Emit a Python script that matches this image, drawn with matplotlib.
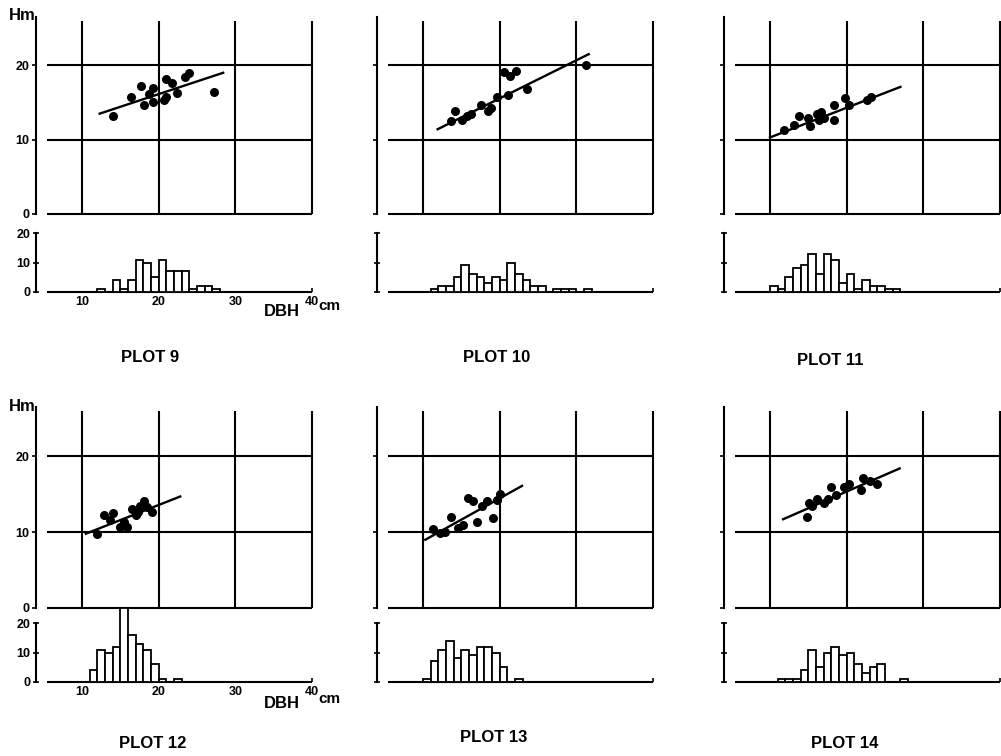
import matplotlib
matplotlib.use("Agg")
import matplotlib.pyplot as plt

plt.rcParams['font.family'] = ['Liberation Sans', 'DejaVu Sans']
plt.rcParams['font.weight'] = 'bold'

# ---- values (DBH in cm, height in m) ----
plot9_dbh = [14.1, 16.4, 17.7, 18.1, 18.7, 19.2, 19.3, 20.7, 21.0, 20.9, 21.7, 22.4, 23.4, 24.0, 27.2]
plot9_h = [13.2, 15.7, 17.2, 14.6, 16.1, 17.0, 15.1, 15.4, 15.7, 18.1, 17.6, 16.3, 18.4, 18.9, 16.4]
plot9_fit_dbh = [12.3, 28.4]
plot9_fit_h = [13.5, 19.0]
plot9_bin_start = 12
plot9_counts = [1, 0, 4, 1, 4, 11, 10, 5, 11, 7, 7, 7, 1, 2, 2, 1]

plot10_dbh = [13.7, 14.2, 15.1, 15.7, 16.3, 17.6, 18.5, 18.8, 19.6, 20.6, 21.4, 22.1, 21.1, 23.5, 31.2]
plot10_h = [12.5, 13.9, 12.6, 13.2, 13.5, 14.7, 13.8, 14.3, 15.7, 19.1, 18.5, 19.3, 16.0, 16.8, 20.1]
plot10_fit_dbh = [11.9, 31.6]
plot10_fit_h = [11.4, 21.5]
plot10_bin_start = 11
plot10_counts = [1, 2, 2, 5, 9, 6, 5, 3, 5, 4, 10, 6, 4, 2, 2, 0, 1, 1, 1, 0, 1]

plot11_dbh = [11.8, 13.1, 13.8, 15.0, 15.2, 16.1, 16.6, 16.4, 17.0, 18.3, 18.4, 19.8, 20.3, 22.6, 23.1]
plot11_h = [11.3, 12.0, 13.2, 12.9, 11.9, 13.4, 13.7, 12.6, 12.9, 12.6, 14.6, 15.6, 14.7, 15.4, 15.8]
plot11_fit_dbh = [10.0, 27.0]
plot11_fit_h = [10.3, 17.1]
plot11_bin_start = 10
plot11_counts = [2, 1, 5, 8, 9, 13, 6, 13, 11, 3, 6, 1, 4, 2, 2, 1, 1]

plot12_dbh = [11.9, 12.8, 13.6, 14.1, 15.0, 15.5, 15.9, 16.5, 17.0, 17.3, 18.1, 18.5, 19.1, 17.5]
plot12_h = [9.7, 12.2, 11.6, 12.5, 10.7, 11.3, 10.7, 13.1, 12.2, 12.6, 14.1, 13.3, 12.6, 13.4]
plot12_fit_dbh = [10.5, 22.8]
plot12_fit_h = [9.8, 14.7]
plot12_bin_start = 11
plot12_counts = [4, 11, 10, 12, 25, 16, 13, 11, 6, 1, 0, 1]

plot13_dbh = [11.3, 12.2, 12.8, 13.6, 14.6, 15.2, 15.9, 16.5, 17.0, 17.7, 18.3, 19.1, 19.6, 20.0]
plot13_h = [10.4, 9.9, 10.0, 12.0, 10.6, 11.0, 14.5, 14.1, 11.4, 13.4, 14.1, 11.8, 14.2, 15.0]
plot13_fit_dbh = [10.3, 22.9]
plot13_fit_h = [9.0, 16.1]
plot13_bin_start = 10
plot13_counts = [1, 7, 11, 14, 8, 11, 9, 12, 12, 10, 5, 0, 1]

plot14_dbh = [14.8, 15.1, 15.5, 16.1, 17.1, 17.5, 18.0, 18.6, 19.7, 20.3, 21.9, 22.1, 23.0, 24.0]
plot14_h = [12.0, 13.9, 13.5, 14.4, 13.8, 14.4, 16.0, 14.9, 15.9, 16.3, 15.6, 17.2, 16.7, 16.3]
plot14_fit_dbh = [11.7, 26.9]
plot14_fit_h = [11.7, 18.4]
plot14_bin_start = 11
plot14_counts = [1, 1, 1, 4, 11, 5, 10, 12, 9, 10, 6, 3, 5, 6, 0, 0, 1]

titles = ["PLOT 9", "PLOT 10", "PLOT 11", "PLOT 12", "PLOT 13", "PLOT 14"]
grid_dbh = [10, 20, 30, 40]
grid_h = [0, 10, 20]
hist_ticks = [0, 10, 20]

panels = [
    (plot9_dbh, plot9_h, plot9_fit_dbh, plot9_fit_h, plot9_bin_start, plot9_counts),
    (plot10_dbh, plot10_h, plot10_fit_dbh, plot10_fit_h, plot10_bin_start, plot10_counts),
    (plot11_dbh, plot11_h, plot11_fit_dbh, plot11_fit_h, plot11_bin_start, plot11_counts),
    (plot12_dbh, plot12_h, plot12_fit_dbh, plot12_fit_h, plot12_bin_start, plot12_counts),
    (plot13_dbh, plot13_h, plot13_fit_dbh, plot13_fit_h, plot13_bin_start, plot13_counts),
    (plot14_dbh, plot14_h, plot14_fit_dbh, plot14_fit_h, plot14_bin_start, plot14_counts),
]

# layout in pixels
W, H = 1001, 756
col_left = [36, 377, 724]
ax_w = 280
row_scatter = [(214, 197), (608, 201)]   # (bottom, height)
row_hist = [(292, 59), (682, 59)]
title_pos = [(150, 358), (497, 358), (830, 361), (153, 743), (494, 738), (845, 744)]
LW = 1.5

fig = plt.figure(figsize=(W / 100, H / 100), dpi=100)


def add_px_axes(left, bottom, width, height):
    return fig.add_axes([left / W, 1 - bottom / H, width / W, height / H])


for i, (dbh, h, fit_x, fit_y, b0, counts) in enumerate(panels):
    row, col = divmod(i, 3)

    # scatter of height against DBH
    bot, hgt = row_scatter[row]
    ax = add_px_axes(col_left[col], bot, ax_w, hgt)
    ax.set_xlim(4, 40.5)
    ax.set_ylim(0, 26.5)
    for s in ['top', 'right', 'bottom']:
        ax.spines[s].set_visible(False)
    ax.spines['left'].set_linewidth(LW)
    ax.vlines(grid_dbh, 0, 26, color='k', lw=LW, clip_on=False)
    ax.hlines(grid_h, 5.4, 40, color='k', lw=LW, clip_on=False)
    ax.scatter(dbh, h, s=30, c='k', zorder=3, clip_on=False)
    ax.plot(fit_x, fit_y, 'k-', lw=1.7, zorder=3)
    ax.set_xticks([])
    ax.set_yticks(grid_h)
    ax.tick_params(axis='y', direction='out', length=3, width=1.2, pad=2, labelsize=9)
    if col == 0:
        ax.set_yticklabels([str(v) for v in grid_h], fontweight='bold')
    else:
        ax.set_yticklabels([])

    # DBH distribution
    bot, hgt = row_hist[row]
    hx = add_px_axes(col_left[col], bot, ax_w, hgt)
    hx.set_xlim(4, 40.5)
    hx.set_ylim(0, 20)
    for s in ['top', 'right', 'bottom']:
        hx.spines[s].set_visible(False)
    hx.spines['left'].set_linewidth(LW)
    hx.hlines(0, 5.4, 40, color='k', lw=LW, clip_on=False)
    hx.vlines(40, 0, 1.2, color='k', lw=1.2)
    bins = [b0 + k for k in range(len(counts))]
    hx.bar(bins, counts, width=1, align='edge', facecolor='white',
           edgecolor='k', lw=1.3, zorder=3, clip_on=False)
    hx.set_yticks(hist_ticks)
    hx.tick_params(axis='y', direction='inout', length=4, width=1.2, pad=2, labelsize=9)
    if col == 0:
        hx.set_yticklabels([str(v) for v in hist_ticks], fontweight='bold')
        hx.set_xticks(grid_dbh)
        hx.set_xticklabels([str(v) for v in grid_dbh], fontweight='bold')
        hx.tick_params(axis='x', length=0, pad=3, labelsize=9)
    else:
        hx.set_yticklabels([])
        hx.set_xticks([])

    tx, ty = title_pos[i]
    fig.text(tx / W, 1 - ty / H, titles[i], ha='center', va='center',
             fontsize=12, fontweight='bold')

# axis captions
for yy in [16, 406]:
    fig.text(22 / W, 1 - yy / H, "Hm", ha='center', va='center', fontsize=12, fontweight='bold')
for yd, yc in [(311, 306), (704, 699)]:
    fig.text(282 / W, 1 - yd / H, "DBH", ha='center', va='center', fontsize=12, fontweight='bold')
    fig.text(329 / W, 1 - yc / H, "cm", ha='center', va='center', fontsize=11, fontweight='bold')

fig.savefig("out.png", dpi=100, facecolor='white')
